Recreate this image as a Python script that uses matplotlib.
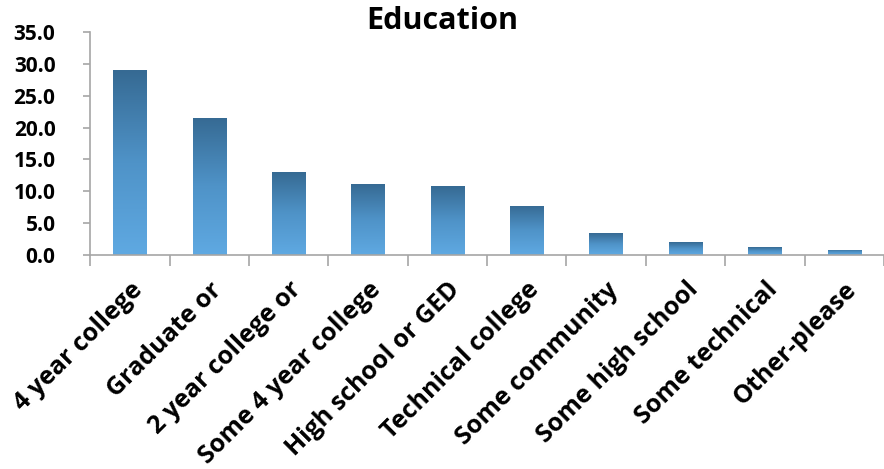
import numpy as np
import matplotlib.pyplot as plt
from matplotlib.colors import LinearSegmentedColormap

categories = ["4 year college", "Graduate or", "2 year college or", "Some 4 year college",
              "High school or GED", "Technical college", "Some community",
              "Some high school", "Some technical", "Other-please"]
values = [29.0, 21.5, 13.0, 11.1, 10.8, 7.7, 3.4, 2.0, 1.2, 0.8]
yticks = [0, 5, 10, 15, 20, 25, 30, 35]

plt.rcParams['font.family'] = ['Open Sans', 'DejaVu Sans']

fig = plt.figure(figsize=(8.84, 4.69), dpi=100)
ax = fig.add_axes([0.102, 0.456, 0.898, 0.476])

# vertical blue gradient: dark at the top of each bar, light at the base
cmap = LinearSegmentedColormap.from_list("edu", ["#5fa9e2", "#4f93c8", "#366a93"])
grad = np.linspace(0, 1, 256).reshape(-1, 1)
width = 0.42
bars = ax.bar(range(len(values)), values, width=width, color="none", edgecolor="none")
for b in bars:
    x0, h = b.get_x(), b.get_height()
    im = ax.imshow(grad, cmap=cmap, origin="lower", aspect="auto",
                   extent=(x0, x0 + width, 0, h), zorder=2)
    im.set_clip_path(b)

ax.set_xlim(-0.5, len(values) - 0.5)
ax.set_ylim(0, 35)
ax.set_yticks(yticks)
ax.set_yticklabels([f"{v:.1f}" for v in yticks], fontsize=15, fontweight="bold")
ax.set_xticks(np.arange(-0.5, len(values) + 0.5, 1), minor=True)
ax.set_xticks(range(len(values)))
ax.set_xticklabels(categories, rotation=45, ha="right", rotation_mode="anchor",
                   fontsize=18, fontweight="bold")
ax.tick_params(axis="x", which="major", length=0, pad=16)
ax.tick_params(axis="x", which="minor", length=8, color="#a6a6a6", width=1.2)
ax.tick_params(axis="y", length=5, color="#a6a6a6", width=1.2, pad=20)
for t in ax.get_yticklabels():
    t.set_horizontalalignment("right")

for s in ["top", "right"]:
    ax.spines[s].set_visible(False)
for s in ["left", "bottom"]:
    ax.spines[s].set_color("#a6a6a6")
    ax.spines[s].set_linewidth(1.2)

fig.text(0.5, 0.955, "Education", ha="center", va="center", fontsize=22, fontweight="bold")

fig.savefig("out.png", dpi=100)
